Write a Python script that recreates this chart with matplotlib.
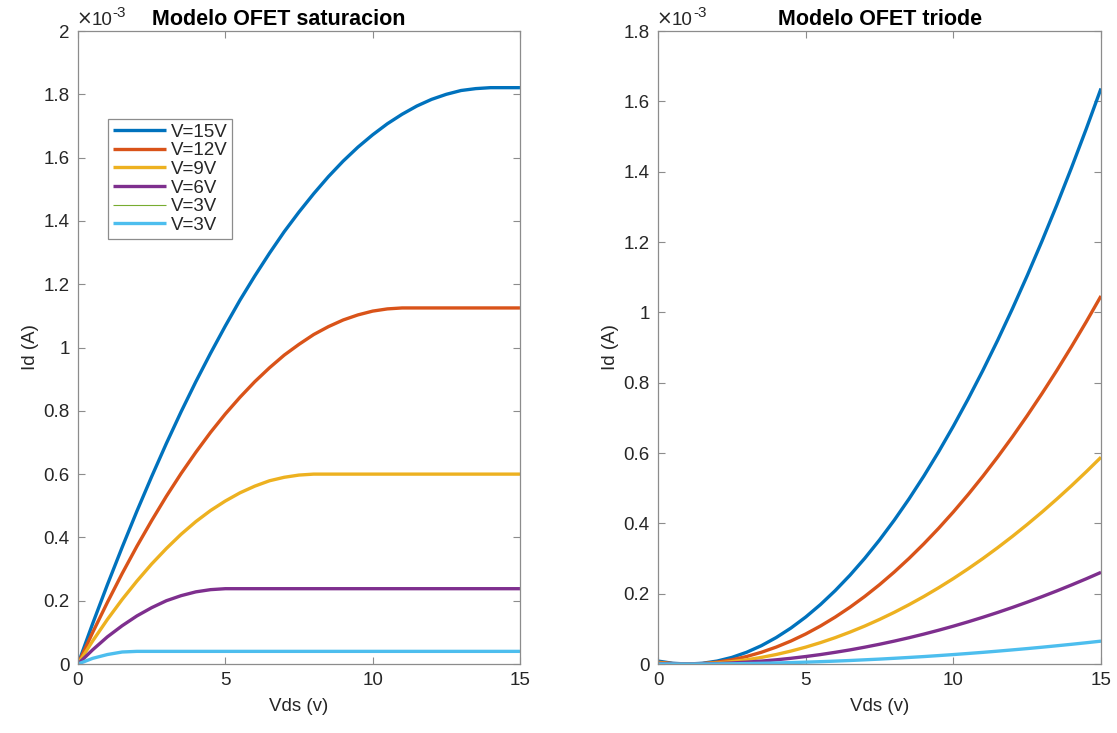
import matplotlib
matplotlib.use("Agg")
from matplotlib import pyplot as plt

plt.rcParams['font.family'] = ['Liberation Sans', 'DejaVu Sans']

# Vds sweep (V) and drain currents in units of 1e-3 A
vds = [0, 0.5, 1, 1.5, 2, 2.5, 3, 3.5, 4, 4.5, 5, 5.5, 6, 6.5, 7, 7.5,
       8, 8.5, 9, 9.5, 10, 10.5, 11, 11.5, 12, 12.5, 13, 13.5, 14, 14.5, 15]

sat_v15 = [0, 0.128, 0.251, 0.369, 0.483, 0.592, 0.697, 0.797, 0.892, 0.982,
           1.068, 1.150, 1.226, 1.298, 1.366, 1.428, 1.486, 1.540, 1.589, 1.633,
           1.672, 1.707, 1.737, 1.763, 1.784, 1.800, 1.812, 1.818, 1.821, 1.821, 1.821]
sat_v12 = [0, 0.100, 0.195, 0.286, 0.372, 0.453, 0.530, 0.602, 0.669, 0.732,
           0.790, 0.843, 0.892, 0.936, 0.976, 1.010, 1.041, 1.066, 1.087, 1.103,
           1.115, 1.122] + [1.125] * 9
sat_v9 = [0, 0.073, 0.141, 0.204, 0.262, 0.316, 0.365, 0.410, 0.450, 0.485,
          0.515, 0.541, 0.562, 0.579, 0.590, 0.597] + [0.600] * 15
sat_v6 = [0, 0.045, 0.086, 0.121, 0.152, 0.178, 0.200, 0.216, 0.228, 0.235] + [0.238] * 21
sat_v3 = [0, 0.018, 0.030, 0.038] + [0.040] * 27

tri_v15 = [0.0084, 0.0021, 0, 0.0021, 0.0084, 0.0188, 0.0334, 0.0522, 0.0752, 0.1023,
           0.1336, 0.1691, 0.2088, 0.2526, 0.3006, 0.3528, 0.4092, 0.4697, 0.5344, 0.6033,
           0.6764, 0.7536, 0.8350, 0.9206, 1.0104, 1.1043, 1.2024, 1.3047, 1.4112, 1.5218, 1.6366]
tri_v12 = [0.0053, 0.0013, 0, 0.0013, 0.0053, 0.0120, 0.0214, 0.0334, 0.0481, 0.0654,
           0.0854, 0.1081, 0.1335, 0.1615, 0.1922, 0.2256, 0.2617, 0.3004, 0.3418, 0.3858,
           0.4325, 0.4819, 0.5340, 0.5887, 0.6461, 0.7062, 0.7690, 0.8344, 0.9025, 0.9732, 1.0466]
tri_v9 = [0.0030, 0.0008, 0, 0.0008, 0.0030, 0.0068, 0.0120, 0.0188, 0.0270, 0.0368,
          0.0480, 0.0608, 0.0750, 0.0908, 0.1080, 0.1268, 0.1470, 0.1688, 0.1920, 0.2168,
          0.2430, 0.2708, 0.3000, 0.3308, 0.3630, 0.3968, 0.4320, 0.4688, 0.5070, 0.5468, 0.5880]
tri_v6 = [0.0013, 0.0003, 0, 0.0003, 0.0013, 0.0030, 0.0053, 0.0083, 0.0120, 0.0163,
          0.0213, 0.0269, 0.0333, 0.0402, 0.0479, 0.0562, 0.0652, 0.0748, 0.0851, 0.0961,
          0.1077, 0.1200, 0.1330, 0.1466, 0.1609, 0.1759, 0.1915, 0.2078, 0.2248, 0.2424, 0.2607]
tri_v3 = [0.0003, 0.0001, 0, 0.0001, 0.0003, 0.0007, 0.0013, 0.0021, 0.0030, 0.0041,
          0.0053, 0.0067, 0.0083, 0.0100, 0.0120, 0.0140, 0.0163, 0.0187, 0.0212, 0.0240,
          0.0269, 0.0300, 0.0332, 0.0366, 0.0402, 0.0439, 0.0478, 0.0519, 0.0561, 0.0605, 0.0651]

labels = ['V=15V', 'V=12V', 'V=9V', 'V=6V', 'V=3V', 'V=3V']
colors = ['#0072BD', '#D95319', '#EDB120', '#7E2F8E', '#77AC30', '#4DBEEE']
widths = [2.4, 2.4, 2.4, 2.4, 0.8, 2.4]

FS = 13.5
frame = '#8c8c8c'
txt = '#262626'


def style_axes(ax, ymax, title, title_x):
    ax.set_xlim(0, 15)
    ax.set_ylim(0, ymax)
    ax.set_xticks([0, 5, 10, 15])
    yt = [round(0.2 * i, 1) for i in range(int(round(ymax / 0.2)) + 1)]
    ax.set_yticks(yt)
    ax.set_yticklabels(['%g' % v for v in yt])
    ax.tick_params(direction='in', length=5, width=0.8, color=frame,
                   labelcolor=txt, labelsize=FS, top=True, right=True, pad=6)
    for s in ax.spines.values():
        s.set_color(frame)
        s.set_linewidth(0.9)
    ax.set_xlabel('Vds (v)', fontsize=FS, color=txt, labelpad=6)
    ax.set_ylabel('Id (A)', fontsize=FS, color=txt, labelpad=3)
    ax.set_title(title, fontsize=15.5, fontweight='bold', x=title_x, pad=4)
    # exponent label: "x10" with a raised "-3"
    times = ax.text(-0.004, 1.003, '\u00d7', transform=ax.transAxes, ha='left',
                    va='bottom', fontsize=FS, color=txt, family='DejaVu Sans')
    ten = ax.annotate('10', xy=(1.0, 0.0), xycoords=times, ha='left',
                      va='bottom', fontsize=FS, color=txt)
    ax.annotate('-3', xy=(1.0, 0.55), xycoords=ten, ha='left', va='bottom',
                fontsize=11, color=txt)


fig = plt.figure(figsize=(11.17, 7.33), dpi=100)
ax1 = fig.add_axes([0.0698, 0.0941, 0.3957, 0.8636])
ax2 = fig.add_axes([0.5891, 0.0941, 0.3966, 0.8636])

sat = [sat_v15, sat_v12, sat_v9, sat_v6, sat_v3, sat_v3]
tri = [tri_v15, tri_v12, tri_v9, tri_v6, tri_v3, tri_v3]

for ys, lab, c, w in zip(sat, labels, colors, widths):
    ax1.plot(vds, ys, color=c, lw=w, label=lab, solid_capstyle='butt')
for ys, lab, c, w in zip(tri, labels, colors, widths):
    ax2.plot(vds, ys, color=c, lw=w, label=lab, solid_capstyle='butt')

style_axes(ax1, 2.0, 'Modelo OFET saturacion', 0.455)
style_axes(ax2, 1.8, 'Modelo OFET triode', 0.502)

leg = ax1.legend(loc='upper left', bbox_to_anchor=(0.068, 0.861), fontsize=FS,
                 frameon=True, fancybox=False, framealpha=1, edgecolor=frame,
                 handlelength=2.85, handletextpad=0.25, labelspacing=0.08,
                 borderpad=0.25, borderaxespad=0)
leg.get_frame().set_linewidth(0.9)
for t in leg.get_texts():
    t.set_color(txt)

fig.savefig('out.png', dpi=100, facecolor='white')
